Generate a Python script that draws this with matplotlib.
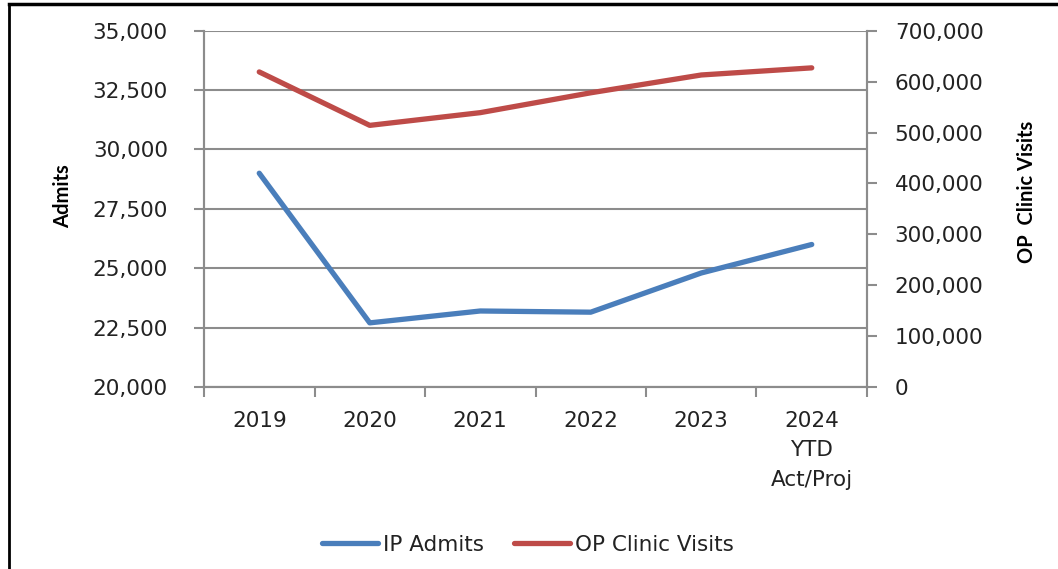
import numpy as np
import matplotlib
matplotlib.use("Agg")
import matplotlib.pyplot as plt
from matplotlib.lines import Line2D
from matplotlib.ticker import FuncFormatter, FixedLocator

# data
years = ['2019', '2020', '2021', '2022', '2023', '2024\nYTD\nAct/Proj']
ip_admits = [29000, 22700, 23200, 23150, 24800, 26000]
op_visits = [619000, 514000, 539000, 578000, 613000, 627000]

blue = '#4A7EBB'
red = '#BE4B48'
grey = '#8C8C8C'
txt = '#222222'

fig = plt.figure(figsize=(10.58, 5.69), dpi=100)
ax1 = fig.add_axes([204 / 1058, 1 - 387 / 569, (867 - 204) / 1058, (387 - 30.7) / 569])
ax2 = ax1.twinx()

x = np.arange(len(years))
l1, = ax1.plot(x, ip_admits, color=blue, lw=3.8, solid_capstyle='round', solid_joinstyle='round', label='IP Admits', zorder=3)
l2, = ax2.plot(x, op_visits, color=red, lw=3.8, solid_capstyle='round', solid_joinstyle='round', label='OP Clinic Visits', zorder=3)

ax1.set_xlim(-0.5, len(years) - 0.5)
ax1.set_ylim(20000, 35000)
ax2.set_ylim(0, 700000)
ax1.set_yticks(np.arange(20000, 35001, 2500))
ax2.set_yticks(np.arange(0, 700001, 100000))
comma = FuncFormatter(lambda v, p: f'{int(v):,}')
ax1.yaxis.set_major_formatter(comma)
ax2.yaxis.set_major_formatter(comma)

# category ticks between the groups, labels centred
ax1.xaxis.set_major_locator(FixedLocator(np.arange(-0.5, len(years), 1.0)))
ax1.xaxis.set_minor_locator(FixedLocator(x))
ax1.set_xticklabels([])
ax1.set_xticklabels(years, minor=True)
ax1.tick_params(axis='x', which='minor', length=0, pad=17, labelsize=15.5, labelcolor=txt)
for t in ax1.get_xticklabels(minor=True):
    t.set_linespacing(1.6)
    t.set_verticalalignment('top')

ax1.grid(axis='y', color=grey, lw=1.5, zorder=0)
ax1.set_axisbelow(True)

for ax in (ax1, ax2):
    for s in ax.spines.values():
        s.set_color(grey)
        s.set_linewidth(1.5)
    ax.spines['top'].set_visible(False)
    ax.tick_params(which='major', direction='out', length=7, width=1.5, color=grey,
                   labelsize=15.5, labelcolor=txt)
ax1.tick_params(axis='y', pad=19)
ax2.tick_params(axis='y', pad=13)

ax1.set_ylabel('Admits', family='Lato', fontweight='bold', fontsize=14.5, color='black')
ax2.set_ylabel('OP  Clinic Visits', family='Lato', fontweight='bold', fontsize=14.5, color='black')
ax1.yaxis.set_label_coords(-(204 - 73) / 663, (387 - 196) / 356.3)
ax2.yaxis.set_label_coords((1017 - 204) / 663, (387 - 192) / 356.3)

fig.legend(handles=[l1, l2], loc='center', bbox_to_anchor=(528 / 1058, 1 - 545 / 569), ncol=2,
           frameon=False, fontsize=15.5, handlelength=2.6, handletextpad=0.25, columnspacing=1.4,
           labelcolor=txt)

# outer frame
fig.add_artist(Line2D([9 / 1058, 9 / 1058], [0, 1 - 4 / 569], transform=fig.transFigure, color='black', lw=2))
fig.add_artist(Line2D([9 / 1058, 1], [1 - 4 / 569, 1 - 4 / 569], transform=fig.transFigure, color='black', lw=2.5))

fig.savefig('out.png', dpi=100)
